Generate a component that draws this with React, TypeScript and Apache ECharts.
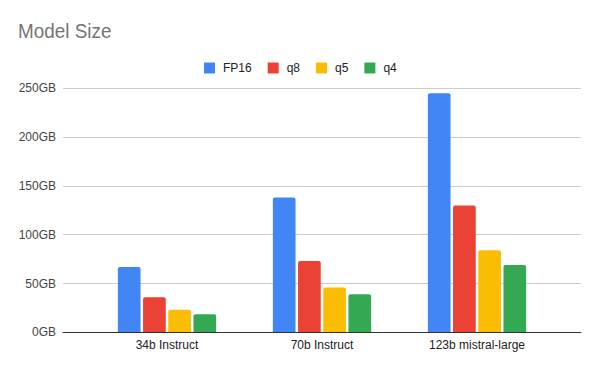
import React, { useEffect, useRef } from "react";
import * as echarts from "echarts";

const categories = ["34b Instruct", "70b Instruct", "123b mistral-large"];
const seriesNames = ["FP16", "q8", "q5", "q4"];
const fp16 = [67, 138, 245];
const q8 = [36, 73, 130];
const q5 = [23, 46, 84];
const q4 = [18.5, 39, 69];
const colors = ["#4285F4", "#EA4335", "#FBBC04", "#34A853"];
const yTicks = { min: 0, max: 250, interval: 50 };
const titleText = "Model Size";

export default function App() {
  const ref = useRef<HTMLDivElement>(null);
  useEffect(() => {
    if (!ref.current) return;
    const chart = echarts.init(ref.current, undefined, { renderer: "svg" });
    const font = "Liberation Sans, Arial, sans-serif";
    const values = [fp16, q8, q5, q4];
    chart.setOption({
      animation: false,
      backgroundColor: "#ffffff",
      graphic: [
        {
          type: "text",
          x: 18,
          y: 20,
          scaleX: 0.9,
          style: {
            text: titleText,
            fontSize: 21,
            fontFamily: font,
            fill: "#757575",
            textVerticalAlign: "top",
            textAlign: "left",
          },
        },
      ],
      legend: {
        left: 199,
        top: 57,
        itemWidth: 11,
        itemHeight: 11,
        itemGap: 16,
        icon: "rect",
        data: seriesNames,
        textStyle: { fontSize: 12, color: "#222222", fontFamily: font, padding: [0, 0, 0, 3] },
      },
      grid: [
        { left: 63, right: 19, top: 88.3, bottom: 38.7 },
        { left: 89.5, right: 45.5, top: 88.3, bottom: 38.7 },
      ],
      xAxis: [
        {
          gridIndex: 0,
          type: "category",
          data: [""],
          axisLine: { show: true, lineStyle: { color: "#333333", width: 1 } },
          axisTick: { show: false },
          axisLabel: { show: false },
          z: 5,
        },
        {
          gridIndex: 1,
          type: "category",
          data: categories,
          axisLine: { show: false },
          axisTick: { show: false },
          axisLabel: { fontSize: 12, color: "#222222", fontFamily: font, margin: 7 },
        },
      ],
      yAxis: [
        {
          gridIndex: 0,
          type: "value",
          min: yTicks.min,
          max: yTicks.max,
          interval: yTicks.interval,
          axisLine: { show: false },
          axisTick: { show: false },
          axisLabel: { formatter: "{value}GB", fontSize: 12, color: "#444444", fontFamily: font, margin: 7 },
          splitLine: { lineStyle: { color: "#cccccc", width: 1 } },
        },
        {
          gridIndex: 1,
          type: "value",
          min: yTicks.min,
          max: yTicks.max,
          interval: yTicks.interval,
          show: false,
          splitLine: { show: false },
        },
      ],
      series: seriesNames.map((name, i) => ({
        name,
        type: "bar",
        xAxisIndex: 1,
        yAxisIndex: 1,
        data: values[i],
        barWidth: 22.7,
        barGap: "11%",
        itemStyle: { color: colors[i], borderRadius: [2, 2, 0, 0] },
      })),
    });
    return () => chart.dispose();
  }, []);
  return <div ref={ref} style={{ width: 600, height: 371, position: "absolute", left: 0, top: 0 }} />;
}
